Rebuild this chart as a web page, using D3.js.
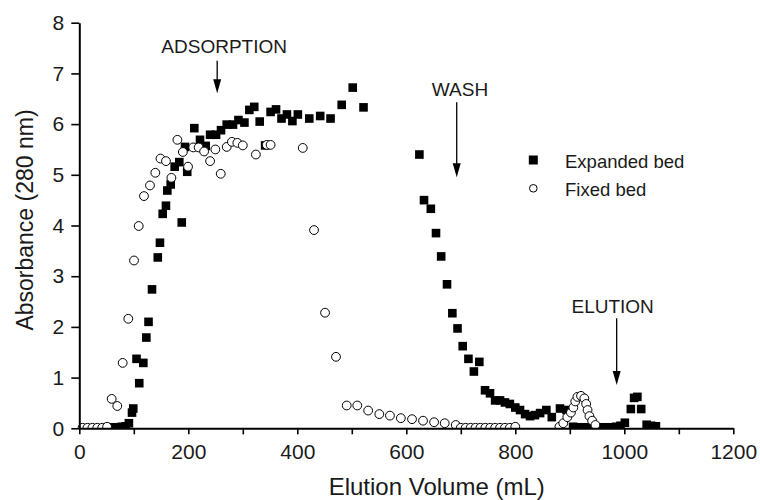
<!DOCTYPE html>
<html>
<head>
<meta charset="utf-8">
<script src="https://cdn.jsdelivr.net/npm/d3@7/dist/d3.min.js"></script>
<style>
  html, body { margin: 0; padding: 0; background: #fff; }
  svg { display: block; }
  text { font-family: "Liberation Sans", Arial, Helvetica, sans-serif; fill: #1a1a1a; }
</style>
</head>
<body>
<svg id="chart" width="760" height="500"></svg>
<script>
// ---- Data ----
const expandedX = [62, 70, 78, 85, 91, 96.7, 99, 105, 110, 117.5, 123, 127, 133.4, 144, 148, 153, 159, 161.5, 167.7, 175, 183.5, 188, 194, 198, 211, 221.5, 232, 240, 251, 260, 270.5, 282, 292, 303, 312, 321, 331, 341, 351, 361, 371, 381, 391, 401, 422, 442, 461, 481.5, 501.7, 521.5, 624, 632.5, 645, 654.5, 664, 674.7, 684.5, 694, 703.5, 714, 724, 734, 744.5, 753.6, 763, 772, 781, 790, 800, 808.7, 818, 827, 836, 845.5, 857, 867, 882, 894, 906, 915, 925, 935, 945, 955, 965, 975, 985, 993, 1001, 1012, 1018, 1024, 1031, 1041, 1049, 1058];
const expandedY = [0.02, 0.02, 0.03, 0.04, 0.10, 0.31, 0.39, 1.37, 0.89, 1.29, 1.79, 2.10, 2.74, 3.37, 3.66, 4.23, 4.39, 4.69, 4.81, 5.16, 5.25, 4.06, 5.55, 5.06, 5.92, 5.69, 5.57, 5.79, 5.79, 5.88, 5.99, 5.99, 6.08, 6.03, 6.28, 6.34, 6.05, 5.58, 6.24, 6.29, 6.11, 6.19, 6.06, 6.19, 6.11, 6.16, 6.11, 6.38, 6.72, 6.33, 5.40, 4.50, 4.33, 3.85, 3.39, 2.84, 2.27, 1.97, 1.62, 1.37, 1.12, 1.31, 0.75, 0.69, 0.55, 0.55, 0.51, 0.48, 0.41, 0.36, 0.28, 0.24, 0.26, 0.30, 0.36, 0.22, 0.39, 0.36, 0.03, 0.02, 0.02, 0.02, 0.02, 0.02, 0.02, 0.02, 0.03, 0.05, 0.11, 0.38, 0.60, 0.62, 0.38, 0.07, 0.05, 0.04];

const fixedX = [6, 15, 24, 33, 42, 51, 59.4, 69.7, 79.6, 89.9, 100.4, 109, 118.7, 129.7, 139.5, 149, 159, 169, 180, 190, 199.5, 209, 219, 229, 240, 249.6, 259.5, 270.5, 280, 290, 300, 324, 344, 351, 410, 430.7, 450.9, 471, 490.7, 510, 530, 550.5, 570, 590, 610.5, 630.7, 651, 670.5, 690.7, 700, 709, 718, 727, 736, 745, 754, 763, 772, 781, 790, 800, 881, 888, 895.5, 902, 906.5, 910, 914, 920.6, 926.7, 930, 932.6, 936, 941, 947];
const fixedY = [0.01, 0.01, 0.01, 0.01, 0.01, 0.03, 0.58, 0.44, 1.29, 2.16, 3.31, 3.99, 4.58, 4.79, 5.04, 5.32, 5.27, 4.94, 5.69, 5.45, 5.16, 5.54, 5.54, 5.46, 5.27, 5.50, 5.02, 5.55, 5.65, 5.63, 5.58, 5.40, 5.59, 5.59, 5.53, 3.91, 2.28, 1.41, 0.45, 0.45, 0.35, 0.28, 0.25, 0.20, 0.18, 0.15, 0.12, 0.10, 0.065, 0.01, 0.01, 0.01, 0.01, 0.01, 0.01, 0.01, 0.01, 0.01, 0.01, 0.01, 0.03, 0.03, 0.10, 0.22, 0.31, 0.41, 0.53, 0.62, 0.64, 0.59, 0.48, 0.36, 0.24, 0.15, 0.065];

const xTickLabels = [0, 200, 400, 600, 800, 1000, 1200];
const xMinorTicks = [100, 300, 500, 700, 900, 1100];
const yTickLabels = [0, 1, 2, 3, 4, 5, 6, 7, 8];

const annotationText = ["ADSORPTION", "WASH", "ELUTION"];
const annotationX = [253, 692.5, 986];       // data x of arrow
const annotationTop = [7.25, 6.43, 2.17];    // data y of arrow start
const annotationTip = [6.61, 4.95, 0.854];   // data y of arrow tip

const seriesNames = ["Expanded bed", "Fixed bed"];

// ---- Layout ----
const margin = { left: 79.3, top: 22.7, right: 760 - 733.3, bottom: 500 - 428.3 };
const W = 760, H = 500;
const svg = d3.select("#chart");

const x = d3.scaleLinear().domain([0, 1200]).range([margin.left, W - margin.right]);
const y = d3.scaleLinear().domain([0, 8]).range([H - margin.bottom, margin.top]);

// clip for points (cut at the x axis line)
svg.append("defs").append("clipPath").attr("id", "plotclip")
  .append("rect")
  .attr("x", x(0) - 10).attr("y", 0)
  .attr("width", x(1200) - x(0) + 20).attr("height", y(0));

const pts = svg.append("g").attr("clip-path", "url(#plotclip)");

const sq = 8.6;
const expanded = expandedX.map((v, i) => ({ x: v, y: expandedY[i] }));
const fixed = fixedX.map((v, i) => ({ x: v, y: fixedY[i] }));

pts.selectAll("rect.exp").data(expanded).enter().append("rect")
  .attr("class", "exp")
  .attr("x", d => x(d.x) - sq / 2)
  .attr("y", d => y(d.y) - sq / 2)
  .attr("width", sq).attr("height", sq)
  .attr("fill", "#000");

pts.selectAll("circle.fix").data(fixed).enter().append("circle")
  .attr("class", "fix")
  .attr("cx", d => x(d.x))
  .attr("cy", d => y(d.y))
  .attr("r", 4.4)
  .attr("fill", "#fff")
  .attr("stroke", "#000")
  .attr("stroke-width", 1);

// ---- Axes ----
svg.append("g").attr("transform", `translate(0,${y(0)})`)
  .call(d3.axisBottom(x).tickValues(xTickLabels).tickFormat(d3.format("d")).tickSize(6).tickPadding(10).tickSizeOuter(0));
svg.append("g").attr("transform", `translate(0,${y(0)})`)
  .call(d3.axisBottom(x).tickValues(xMinorTicks).tickFormat("").tickSize(6).tickSizeOuter(0))
  .call(g => g.select(".domain").remove());

svg.append("g").attr("transform", `translate(${x(0)},0)`)
  .call(d3.axisLeft(y).tickValues(yTickLabels).tickFormat(d3.format("d")).tickSize(8).tickPadding(7).tickSizeOuter(0));

svg.selectAll(".domain").attr("stroke", "#000").attr("stroke-width", 2);
svg.selectAll(".tick line").attr("stroke", "#000").attr("stroke-width", 1.6);
svg.selectAll(".tick text").attr("font-size", 21).attr("font-family", "Liberation Sans, Arial, sans-serif").attr("fill", "#1a1a1a");

// Axis titles
svg.append("text")
  .attr("x", 436.7).attr("y", 495)
  .attr("text-anchor", "middle")
  .attr("font-size", 24)
  .text("Elution Volume (mL)");

svg.append("text")
  .attr("transform", `translate(33,220) rotate(-90)`)
  .attr("text-anchor", "middle")
  .attr("font-size", 23)
  .text("Absorbance (280 nm)");

// ---- Annotations ----
const textOffsets = [7, 3.3, -4]; // horizontal offset of label center from arrow (px)
const textGap = [8, 6.3, 5];
annotationText.forEach((t, i) => {
  const ax = x(annotationX[i]);
  const y0 = y(annotationTop[i]);
  const y1 = y(annotationTip[i]);
  const headH = 14, headW = 8;
  svg.append("line")
    .attr("x1", ax).attr("x2", ax)
    .attr("y1", y0).attr("y2", y1 - headH + 1)
    .attr("stroke", "#000").attr("stroke-width", 1.3);
  svg.append("path")
    .attr("d", `M${ax - headW / 2},${y1 - headH} L${ax + headW / 2},${y1 - headH} L${ax},${y1} Z`)
    .attr("fill", "#000");
  svg.append("text")
    .attr("x", ax + textOffsets[i]).attr("y", y0 - textGap[i])
    .attr("text-anchor", "middle")
    .attr("font-size", 19)
    .text(t);
});

// ---- Legend ----
const legX = 533.3, legY = [160, 188.3];
svg.append("rect").attr("x", legX - 4.5).attr("y", legY[0] - 4.5).attr("width", 9).attr("height", 9).attr("fill", "#000");
svg.append("circle").attr("cx", legX).attr("cy", legY[1]).attr("r", 3.8).attr("fill", "#fff").attr("stroke", "#000").attr("stroke-width", 1);
seriesNames.forEach((n, i) => {
  svg.append("text").attr("x", 565).attr("y", legY[i] + 7.5).attr("font-size", 18.5).text(n);
});
</script>
</body>
</html>
